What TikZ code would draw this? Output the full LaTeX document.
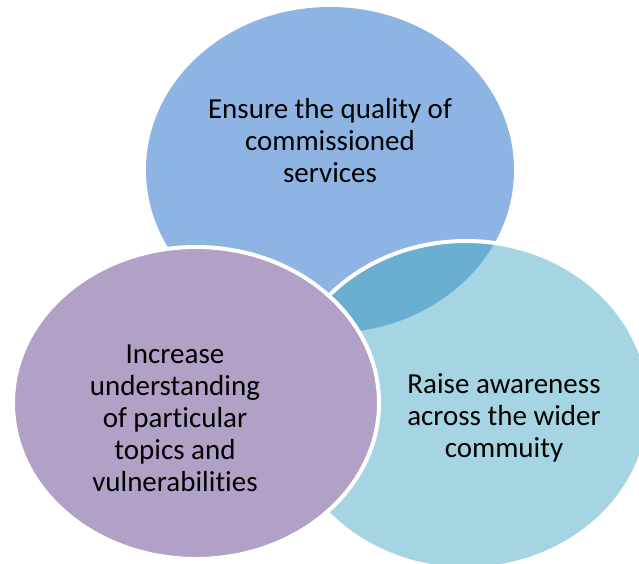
\documentclass[tikz,border=0pt]{standalone}
\usepackage{fontspec}
\setmainfont[Ligatures=NoCommon]{Carlito}
\usetikzlibrary{shapes.geometric}
\definecolor{cblue}{HTML}{8EB4E3}
\definecolor{clight}{HTML}{A5D5E2}
\definecolor{cpurple}{HTML}{B2A1C7}
\definecolor{coverlap}{HTML}{6AAFD1}
\tikzset{
  venn/.style={ellipse, draw=white, line width=4pt, inner sep=0pt},
  lbl/.style={align=center, font=\fontsize{29}{32}\selectfont, text=black, inner sep=0pt}
}
\begin{document}
\begin{tikzpicture}[x=1pt,y=-1pt]
\useasboundingbox (0,0) rectangle (639,564);
\clip (0,0) rectangle (639,564);
% top blue
\node[venn, fill=cblue, draw=none, minimum width=368pt, minimum height=326pt] (top) at (330,170) {};
% right light blue
\node[venn, fill=clight, draw=none, minimum width=368pt, minimum height=328pt] (right) at (466,405) {};
\begin{scope}
  \clip (330,170) ellipse [x radius=184pt, y radius=163pt];
  \fill[coverlap] (466,405) ellipse [x radius=184pt, y radius=164pt];
\end{scope}
\draw[white, line width=4pt] (466,405) ellipse [x radius=184pt, y radius=164pt];
% left purple
\node[venn, fill=cpurple, minimum width=366pt, minimum height=312pt] (left) at (196,403) {};
% labels
\node[lbl] (ttop) at (330,141) {Ensure the quality of\\commissioned\\services};
\node[lbl] (tright) at (504,418) {Raise awareness\\across the wider\\commuity};
\node[lbl] (tleft) at (175,418) {Increase\\understanding\\of particular\\topics and\\vulnerabilities};
\end{tikzpicture}
\end{document}
